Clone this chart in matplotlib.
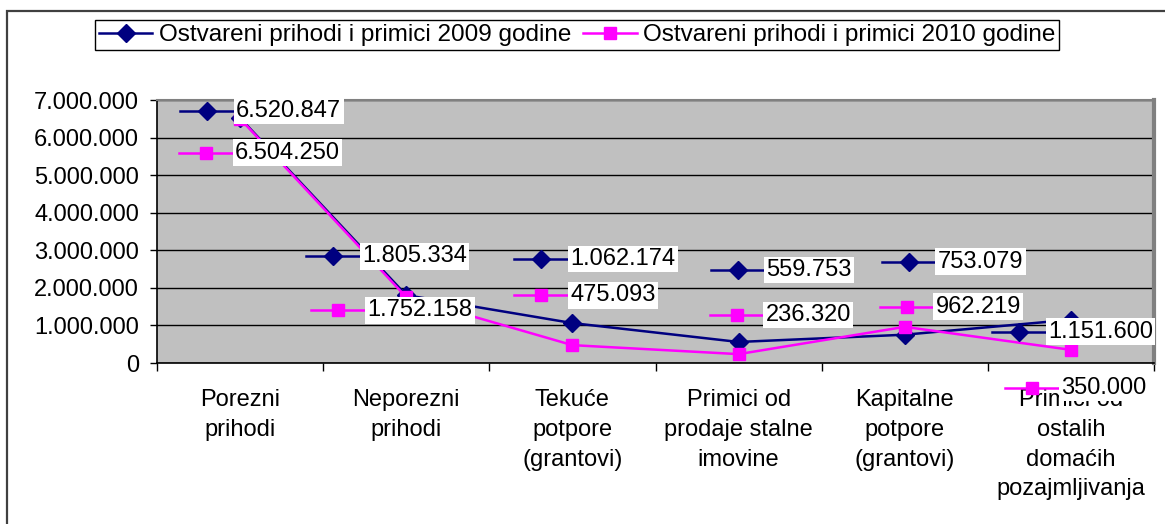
import matplotlib
matplotlib.use('Agg')
import matplotlib.pyplot as plt
from matplotlib.offsetbox import DrawingArea, AnnotationBbox
from matplotlib.lines import Line2D
from matplotlib.patches import Rectangle

plt.rcParams['font.family'] = ['Liberation Sans', 'DejaVu Sans']

categories = ["Porezni\nprihodi", "Neporezni\nprihodi", "Tekuće\npotpore\n(grantovi)",
              "Primici od\nprodaje stalne\nimovine", "Kapitalne\npotpore\n(grantovi)",
              "Primici od\nostalih\ndomaćih\npozajmljivanja"]
values_2009 = [6520847, 1805334, 1062174, 559753, 753079, 1151600]
values_2010 = [6504250, 1752158, 475093, 236320, 962219, 350000]
series_names = ["Ostvareni prihodi i primici 2009 godine",
                "Ostvareni prihodi i primici 2010 godine"]
y_ticks = [0, 1000000, 2000000, 3000000, 4000000, 5000000, 6000000, 7000000]

# label placement (pixels): left edge of value box relative to point, vertical shift (up +)
offsets_2009 = [(-4, 7), (-44, 39), (-2, 64), (28, 72), (33, 73), (-23, -12)]
offsets_2010 = [(-5, -34), (-39, -13), (-2, 50), (27, 39), (31, 20), (-10, -38)]

W, H = 1165, 524
DPI = 100
FS = 17
fig = plt.figure(figsize=(W / DPI, H / DPI), dpi=DPI)
fig.patch.set_facecolor('white')

# outer chart frame (left & top visible)
fig.add_artist(Rectangle((7 / W, -0.1), 1.5, 1 - 11 / H + 0.1, transform=fig.transFigure,
                         fill=False, ec='#404040', lw=1.6))

ax = fig.add_axes([157 / W, (H - 363) / H, 997 / W, 263 / H])
ax.set_facecolor('#C0C0C0')

def fmt(v):
    return f"{int(v):,}".replace(",", ".")

c09 = '#000080'
c10 = '#FF00FF'
x = list(range(len(categories)))
ax.plot(x, values_2009, color=c09, lw=1.8, marker='D', ms=9, zorder=3)
ax.plot(x, values_2010, color=c10, lw=1.8, marker='s', ms=9, zorder=3.1)

ax.set_xlim(-0.5, len(categories) - 0.5)
ax.set_ylim(0, 7000000)
ax.set_yticks(y_ticks)
ax.set_yticklabels([fmt(v) for v in y_ticks])
ax.set_xticks([i - 0.5 for i in range(len(categories) + 1)])
ax.set_xticklabels([])
ax.set_xticks(x, minor=True)
ax.set_xticklabels(categories, minor=True, fontsize=FS, linespacing=1.45)
ax.tick_params(axis='x', which='minor', length=0, pad=19)
ax.tick_params(axis='x', which='major', length=5.5, width=1, direction='out')
ax.tick_params(axis='y', length=5, width=1, direction='out', pad=8, labelsize=FS)
ax.yaxis.grid(True, color='black', lw=1)
ax.set_axisbelow(True)
for s in ['left', 'bottom']:
    ax.spines[s].set_color('black')
    ax.spines[s].set_linewidth(1.2)
ax.spines['top'].set_color('#808080')
ax.spines['top'].set_linewidth(1.5)
ax.spines['right'].set_color('#808080')
ax.spines['right'].set_linewidth(3)

def key_area(color, marker, ms):
    wpt = 54 * 0.72
    hpt = 16 * 0.72
    da = DrawingArea(wpt, hpt, 0, 0, clip=False)
    da.add_artist(Line2D([0, wpt], [hpt / 2, hpt / 2], color=color, lw=1.8))
    da.add_artist(Line2D([wpt / 2], [hpt / 2], color=color, marker=marker, ms=ms, lw=0))
    return da

for vals, offs, color, marker in [(values_2009, offsets_2009, c09, 'D'),
                                  (values_2010, offsets_2010, c10, 's')]:
    for i, (v, (dx, dy)) in enumerate(zip(vals, offs)):
        ab = AnnotationBbox(key_area(color, marker, 9), (i, v), xybox=(dx - 2, dy),
                            boxcoords='offset pixels', box_alignment=(1.0, 0.5),
                            frameon=False, pad=0, annotation_clip=False, zorder=5)
        ax.add_artist(ab)
        ax.annotate(fmt(v), (i, v), xytext=(dx, dy), textcoords='offset pixels',
                    ha='left', va='center', fontsize=FS, zorder=6,
                    bbox=dict(boxstyle='square,pad=0.1', fc='white', ec='none'),
                    annotation_clip=False)

handles = [Line2D([], [], color=c09, lw=1.8, marker='D', ms=9),
           Line2D([], [], color=c10, lw=1.8, marker='s', ms=9)]
leg = fig.legend(handles, series_names, loc='center',
                 bbox_to_anchor=(577 / W, 1 - 35 / H), ncol=2, frameon=True,
                 fancybox=False, edgecolor='black', framealpha=1, fontsize=17.5,
                 handlelength=2.2, handletextpad=0.25, columnspacing=0.5,
                 borderpad=0.15, borderaxespad=0)
leg.get_frame().set_linewidth(1)

fig.savefig('out.png', dpi=DPI)
